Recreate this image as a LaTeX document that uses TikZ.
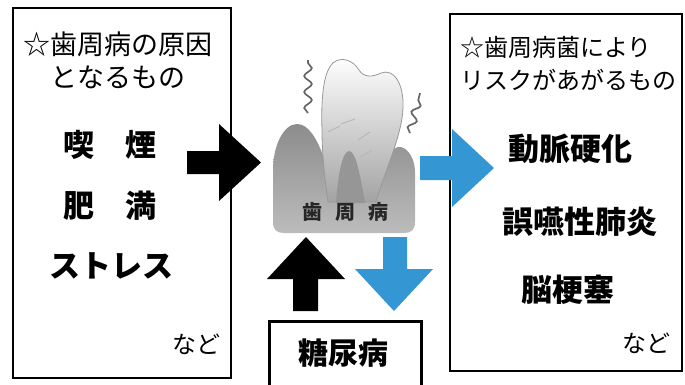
\documentclass[tikz,border=0pt]{standalone}
\usepackage{fontspec}
\usetikzlibrary{decorations.pathmorphing}
\newfontfamily\jp{Noto Sans CJK JP}
\definecolor{arrowblue}{RGB}{52,150,210}
\definecolor{gumtop}{RGB}{140,140,140}
\definecolor{gumbot}{RGB}{188,188,188}
\definecolor{gummid}{RGB}{150,150,150}
\begin{document}
\begin{tikzpicture}[x=1pt,y=-1pt,
  frame/.style={draw=black, line width=2.6pt, inner sep=0pt},
  ttl/.style={font=\jp\fontsize{27}{33}\selectfont, inner sep=0pt},
  ttlr/.style={font=\jp\fontsize{24}{30}\selectfont, inner sep=0pt, anchor=west},
  item/.style={font=\jp\bfseries\fontsize{31}{36}\selectfont, inner sep=0pt},
  etc/.style={font=\jp\fontsize{24}{28}\selectfont, inner sep=0pt},
  tlabel/.style={font=\jp\bfseries\fontsize{20}{24}\selectfont, inner sep=0pt, text=black!85},
  blk/.style={fill=black},
  blu/.style={fill=arrowblue},
  wave/.style={draw=black!60, line width=1.7pt, decorate,
    decoration={snake, segment length=16pt, amplitude=3.8pt}},
  crack/.style={draw=black!28, line width=1pt}]
\useasboundingbox (0,0) rectangle (685,384);
\fill[white] (0,0) rectangle (685,384);

% boxes
\node[frame, minimum width=218pt, minimum height=370pt] (causes) at (122,193) {};
\node[frame, minimum width=232pt, minimum height=357pt] (risks) at (566,192.5) {};
\node[frame, minimum width=152pt, minimum height=90pt, anchor=north west] (dmbox) at (268,320) {};

% left texts
\node[ttl] (ct1) at (118,44) {☆歯周病の原因};
\node[ttl] (ct2) at (118,77) {となるもの};
\node[item] (smk) at (110,145) {喫　煙};
\node[item] (obs) at (110,206) {肥　満};
\node[item] (str) at (111,266) {ストレス};
\node[etc] (etc1) at (196,344) {など};

% right texts
\node[ttlr] (rt1) at (460,47) {☆歯周病菌により};
\node[ttlr] (rt2) at (460,80) {リスクがあがるもの};
\node[item] (ath) at (570,149) {動脈硬化};
\node[item] (asp) at (580,222) {誤嚥性肺炎};
\node[item] (cer) at (568,290) {脳梗塞};
\node[etc] (etc2) at (646,343) {など};

% diabetes
\node[item, font=\jp\bfseries\fontsize{30}{34}\selectfont] (dm) at (343,353) {糖尿病};

% tooth illustration
\shade[top color=gumtop, bottom color=gumbot]
  (273,170) .. controls (273,145) and (284,124) .. (297,124)
  .. controls (309,124) and (317,140) .. (323,155) -- (388,158)
  .. controls (391,150) and (396,146) .. (401,147)
  .. controls (409,149) and (415,160) .. (415,172) -- (415,222)
  .. controls (415,230) and (411,233) .. (404,233) -- (284,233)
  .. controls (277,233) and (273,230) .. (273,222) -- cycle;
\path[draw=black!40, line width=0.8pt, top color=white, bottom color=black!36]
  (328,202) .. controls (324,175) and (322,150) .. (322,130)
  .. controls (321,100) and (323,72) .. (333,63)
  .. controls (341,56) and (353,60) .. (359,70)
  .. controls (364,78) and (373,77) .. (381,73)
  .. controls (394,68) and (404,84) .. (403,108)
  .. controls (402,135) and (386,168) .. (376,202) -- cycle;
\fill[gummid] (336,203) .. controls (338,175) and (342,152) .. (349,151)
  .. controls (356,151) and (360,175) .. (365,203) -- cycle;
\draw[crack] (328,132) -- (340,126);
\draw[crack] (341,124) -- (355,119);
\draw[crack] (358,140) -- (370,132);
\draw[crack] (361,157) -- (372,150);
\draw[wave] (308,113) -- (308,60);
\draw[wave] (410,133) -- (420,93);
\node[tlabel] (t1) at (312,212) {歯};
\node[tlabel] (t2) at (345,212) {周};
\node[tlabel] (t3) at (378,212) {病};

% arrows
\fill[blk] (187,151) -- (219,151) -- (219,124) -- (261,162.5) -- (219,201) -- (219,174) -- (187,174) -- cycle;
\fill[blu] (420,156) -- (452,156) -- (452,129) -- (494,168) -- (452,207) -- (452,180) -- (420,180) -- cycle;
\fill[blk] (293,311) -- (293,279) -- (267,279) -- (306,237) -- (345,279) -- (318,279) -- (318,311) -- cycle;
\fill[blu] (383,237) -- (407,237) -- (407,269) -- (433,269) -- (394,311) -- (355,269) -- (383,269) -- cycle;
\end{tikzpicture}
\end{document}
